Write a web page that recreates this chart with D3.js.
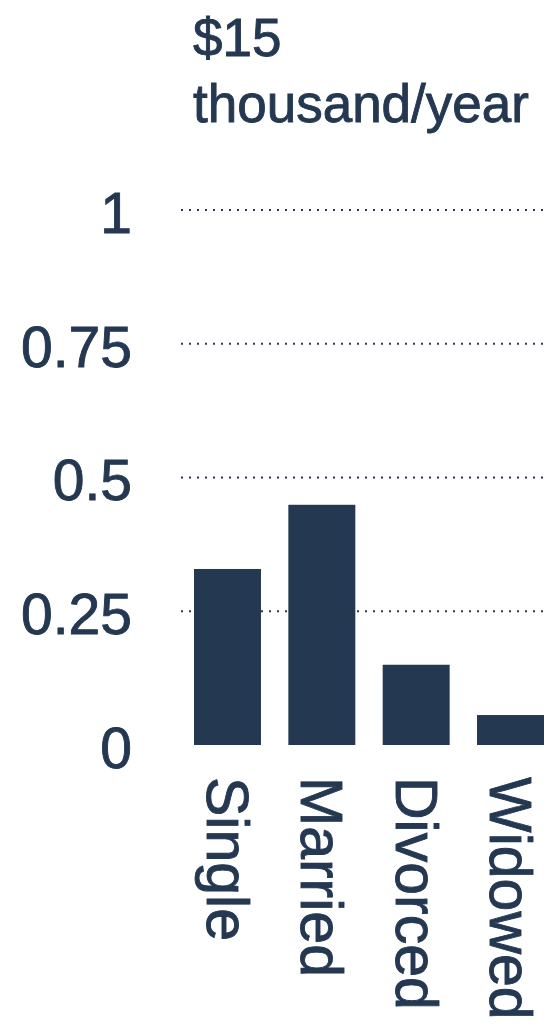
<!DOCTYPE html>
<html>
	<head>
		<meta charset="utf-8">
		<script src="https://d3js.org/d3.v7.min.js"></script>
		<style>
			body { margin: 0; background: #fff; }
			/* thin stroke makes the type a bit heavier, like the original */
			text { font-family: "Liberation Sans", Arial, Helvetica, sans-serif; fill: #243851; stroke: #243851; stroke-width: 0.9px; }
		</style>
	</head>
	<body>
		<div id="chart"></div>
	</body>

<script>

var categories = ["Single", "Married", "Divorced", "Widowed"];
var values = [0.329, 0.449, 0.150, 0.056];
var tickValues = [0, 0.25, 0.5, 0.75, 1];
var tickLabels = ["0", "0.25", "0.5", "0.75", "1"];
var titleLines = ["$15", "thousand/year"];

var width = 545,
	height = 1029;
var ink = "#243851";

var svg = d3.select("#chart")
	.append("svg")
	.attr("width", width)
	.attr("height", height);

// scales
var x = d3.scaleBand()
	.domain(categories)
	.range([194, 544])
	.paddingInner(0.29)
	.paddingOuter(0);

var y = d3.scaleLinear()
	.domain([0, 1])
	.range([745, 210]);

// title, two lines
svg.append("g")
	.selectAll("text")
	.data(titleLines)
	.enter().append("text")
	.attr("x", 193)
	.attr("y", function(d, i) { return 56 + i * 66; })
	.attr("font-size", 53)
	.text(function(d) { return d; });

// dotted gridlines (not at 0)
svg.append("g")
	.selectAll("line")
	.data(tickValues.filter(function(d) { return d > 0; }))
	.enter().append("line")
	.attr("x1", 181)
	.attr("x2", width)
	.attr("y1", function(d) { return y(d); })
	.attr("y2", function(d) { return y(d); })
	.attr("stroke", ink)
	.attr("stroke-width", 2)
	.attr("stroke-dasharray", "2,6");

// y tick labels
svg.append("g")
	.selectAll("text")
	.data(tickValues)
	.enter().append("text")
	.attr("x", 132)
	.attr("y", function(d) { return y(d); })
	.attr("dy", "0.4em")
	.attr("text-anchor", "end")
	.attr("font-size", 57)
	.text(function(d, i) { return tickLabels[i]; });

// bars
svg.append("g")
	.selectAll("rect")
	.data(values)
	.enter().append("rect")
	.attr("x", function(d, i) { return x(categories[i]); })
	.attr("y", function(d) { return y(d); })
	.attr("width", x.bandwidth())
	.attr("height", function(d) { return y(0) - y(d); })
	.attr("fill", ink);

// category labels rotated, reading downwards
svg.append("g")
	.selectAll("text")
	.data(categories)
	.enter().append("text")
	.attr("transform", function(d) {
		return "translate(" + (x(d) + x.bandwidth() / 2) + "," + y(0) + ") rotate(90)";
	})
	.attr("x", 32)
	.attr("dy", "0.35em")
	.attr("font-size", 59)
	.text(function(d) { return d; });

</script>
</html>
